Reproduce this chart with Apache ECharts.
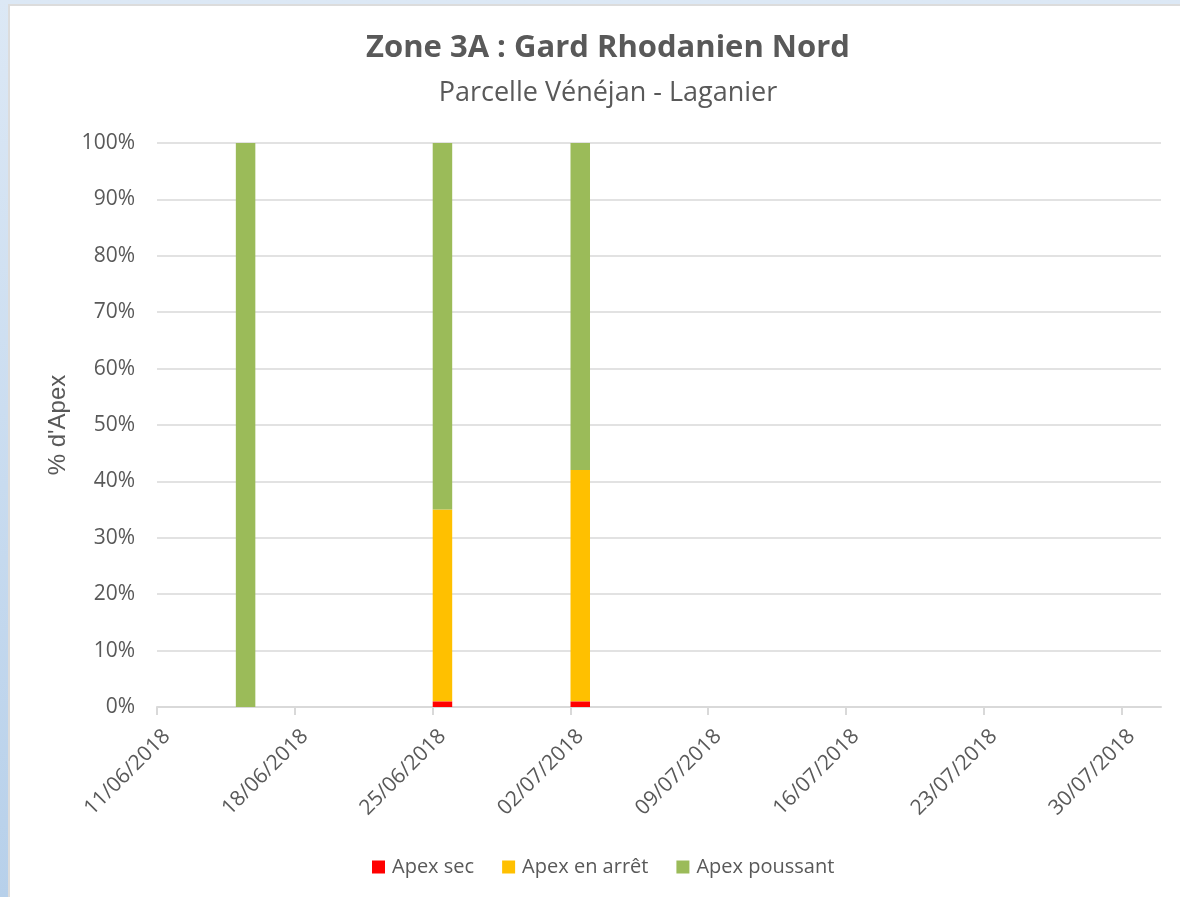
<!DOCTYPE html>
<html>
<head>
<meta charset="utf-8">
<script src="https://cdn.jsdelivr.net/npm/echarts@6/dist/echarts.min.js"></script>
<style>
  html, body { margin: 0; padding: 0; width: 1180px; height: 897px; overflow: hidden; }
  body { background: linear-gradient(180deg, #dce8f5 0%, #b7d0ea 100%); position: relative; }
  #panel { position: absolute; left: 8px; top: 4px; width: 1172px; height: 893px; background: #fff; border-left: 2px solid #dcdcdc; border-top: 2px solid #dcdcdc; box-sizing: border-box; }
  #main { position: absolute; left: 0; top: 0; width: 1180px; height: 897px; }
</style>
</head>
<body>
<div id="panel"></div>
<div id="main"></div>
<script>
// date of each measurement
const dates = ['15/06/2018', '25/06/2018', '02/07/2018']
// % d'apex per state
const apexSec = [0, 1, 1]
const apexArret = [0, 34, 41]
const apexPoussant = [100, 65, 58]
// x axis tick labels (every 7 days), axis runs to 01/08/2018
const xTicks = ['11/06/2018', '18/06/2018', '25/06/2018', '02/07/2018', '09/07/2018', '16/07/2018', '23/07/2018', '30/07/2018']
const xEnd = '01/08/2018'

function toDay(s) {
  const p = s.split('/')
  return Date.UTC(+p[2], +p[1] - 1, +p[0]) / 86400000
}
function fmt(day) {
  const d = new Date(day * 86400000)
  const pad = n => String(n).padStart(2, '0')
  return pad(d.getUTCDate()) + '/' + pad(d.getUTCMonth() + 1) + '/' + d.getUTCFullYear()
}
const day0 = toDay(xTicks[0])
const nDays = toDay(xEnd) - day0

// half-day slots so that each bar fills its own day (date .. date+1)
const slots = []
for (let i = 0; i <= nDays * 2; i++) slots.push(String(i))
const tickSet = new Set(xTicks.map(t => 2 * (toDay(t) - day0)))
function series(vals) {
  const out = slots.map(() => null)
  dates.forEach((d, i) => { out[2 * (toDay(d) - day0) + 1] = vals[i] })
  return out
}
const showTick = idx => tickSet.has(idx)
// excel hangs the rotated label half a day to the right of its tick
const showLabel = idx => tickSet.has(idx - 1)

const chart = echarts.init(document.getElementById('main'))
const font = 'Open Sans, sans-serif'
const grey = '#595959'

chart.setOption({
  animation: false,
  textStyle: { fontFamily: font },
  title: [{
    text: 'Zone 3A : Gard Rhodanien Nord',
    left: 603, top: 28, textAlign: 'center',
    textStyle: { fontSize: 31, fontWeight: 'bold', color: grey, fontFamily: font }
  }, {
    text: 'Parcelle Vénéjan - Laganier',
    left: 603, top: 75, textAlign: 'center',
    textStyle: { fontSize: 27, fontWeight: 'normal', color: grey, fontFamily: font }
  }],
  legend: {
    top: 852, left: 367,
    itemWidth: 13, itemHeight: 13, itemGap: 28,
    icon: 'rect',
    textStyle: { fontSize: 20, color: grey, fontFamily: font, padding: [0, 0, 0, 2] },
    data: ['Apex sec', 'Apex en arrêt', 'Apex poussant']
  },
  grid: { left: 157, right: 19, top: 143, bottom: 190, containLabel: false },
  xAxis: {
    type: 'category',
    data: slots,
    boundaryGap: false,
    splitLine: { show: false },
    axisLine: { lineStyle: { color: '#d9d9d9', width: 2 } },
    axisTick: { show: true, length: 8, interval: showTick, lineStyle: { color: '#d9d9d9', width: 2 } },
    axisLabel: {
      interval: showLabel,
      rotate: 45, margin: 26, fontSize: 21, color: grey,
      formatter: v => fmt(day0 + (+v - 1) / 2)
    }
  },
  yAxis: {
    type: 'value',
    min: 0, max: 100, interval: 10,
    name: "% d'Apex",
    nameLocation: 'middle', nameGap: 86, nameRotate: 90,
    nameTextStyle: { fontSize: 24, color: grey, fontFamily: 'Liberation Sans, Arial, sans-serif' },
    axisLine: { show: false },
    axisTick: { show: false },
    axisLabel: { fontSize: 21, color: grey, margin: 22, formatter: '{value}%' },
    splitLine: { lineStyle: { color: '#d9d9d9', width: 1.5 } }
  },
  series: [
    { name: 'Apex sec', type: 'bar', stack: 'a', barWidth: 19.5, itemStyle: { color: '#ff0000' }, data: series(apexSec) },
    { name: 'Apex en arrêt', type: 'bar', stack: 'a', barWidth: 19.5, itemStyle: { color: '#ffc000' }, data: series(apexArret) },
    { name: 'Apex poussant', type: 'bar', stack: 'a', barWidth: 19.5, itemStyle: { color: '#9bbb59' }, data: series(apexPoussant) }
  ]
})
</script>
</body>
</html>
